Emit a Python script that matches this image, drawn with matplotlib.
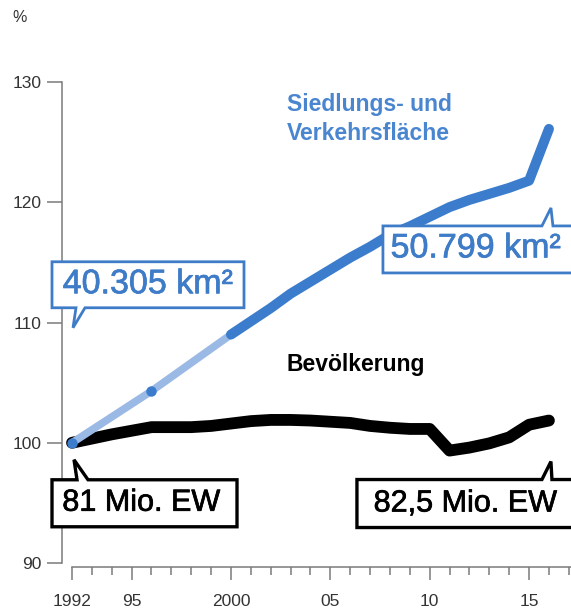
import numpy as np
import matplotlib.pyplot as plt
import matplotlib.patheffects as pe
from matplotlib.patches import Polygon
from matplotlib.transforms import Affine2D, ScaledTranslation

# Daten (Index 1992 = 100)
jahre = list(range(1992, 2017))
bevoelkerung = [100.0, 100.35, 100.7, 101.0, 101.3, 101.3, 101.3, 101.4, 101.6, 101.8,
                101.9, 101.9, 101.85, 101.75, 101.65, 101.4, 101.25, 101.15, 101.15,
                99.35, 99.6, 99.95, 100.45, 101.5, 101.85]

flaeche_jahre = [1992, 1996, 2000, 2001, 2002, 2003, 2004, 2005, 2006, 2007, 2008,
                 2009, 2010, 2011, 2012, 2013, 2014, 2015, 2016]
flaeche_index = [100.0, 104.3, 109.0, 110.1, 111.2, 112.4, 113.4, 114.4, 115.4, 116.3,
                 117.3, 118.0, 118.8, 119.6, 120.2, 120.7, 121.2, 121.8, 126.1]

y_ticks = [90, 100, 110, 120, 130]
x_major = [1992, 1995, 2000, 2005, 2010, 2015]
x_labels = ['1992', '95', '2000', '05', '10', '15']

BLAU = '#3b7dcc'
HELLBLAU = '#9bb9e5'
GRAU = '#7a7a7a'
TEXT = '#333333'

plt.rcParams['font.family'] = ['Liberation Sans', 'DejaVu Sans']

fig = plt.figure(figsize=(5.71, 6.09), dpi=100)
ax = fig.add_axes([0.1086, 0.0755, 0.8914, 0.7898])
ax.set_xlim(1991.497, 2017.11)
ax.set_ylim(90, 130)

# Linien
ax.plot(jahre, bevoelkerung, color='black', lw=8.5, solid_capstyle='round',
        solid_joinstyle='round', zorder=3, clip_on=False)
hell = flaeche_jahre[:3]
ax.plot(hell, flaeche_index[:3], color=HELLBLAU, lw=5.5, solid_capstyle='butt', zorder=4)
ax.plot(flaeche_jahre[2:], flaeche_index[2:], color=BLAU, lw=7.2, solid_capstyle='round',
        solid_joinstyle='round', zorder=4, clip_on=False)
ax.plot(flaeche_jahre[:2], flaeche_index[:2], 'o', color=BLAU, ms=7.5, mec='none', zorder=5)

# Achsen
for s in ['top', 'right']:
    ax.spines[s].set_visible(False)
ax.spines['left'].set_bounds(90, 130)
ax.spines['left'].set_color(GRAU)
ax.spines['left'].set_linewidth(1.1)
ax.spines['bottom'].set_position(('outward', 3))
ax.spines['bottom'].set_bounds(1992, 2017.11)
ax.spines['bottom'].set_color(GRAU)
ax.spines['bottom'].set_linewidth(1.1)

ax.set_yticks(y_ticks)
ax.tick_params(axis='y', length=11, width=1.1, color=GRAU, labelsize=12.5,
               labelcolor=TEXT, pad=4)
ax.set_xticks(x_major)
ax.set_xticklabels(x_labels)
ax.set_xticks(range(1992, 2018), minor=True)
ax.tick_params(axis='x', which='major', length=9.5, width=1.1, color=GRAU,
               labelsize=12.5, labelcolor=TEXT, pad=10)
ax.tick_params(axis='x', which='minor', length=5.5, width=1.1, color=GRAU)

fig.text(12 / 571, 1 - 22 / 609, '%', fontsize=11.5, color=TEXT)

# Beschriftungen
ax.text(2002.8, 127.6, 'Siedlungs- und', color='#4a86d0', fontsize=16.5,
        fontweight='bold', va='baseline')
ax.text(2002.8, 125.2, 'Verkehrsfläche', color='#4a86d0', fontsize=16.5,
        fontweight='bold', va='baseline')
ax.text(2002.8, 106.0, 'Bevölkerung', color='black', fontsize=16.5,
        fontweight='bold', va='baseline')


def callout(x, y, box, spitze, text, text_pos, farbe, lw, size):
    # Box mit Zeiger, Maße in Pixeln relativ zum Datenpunkt
    tr = Affine2D() + ScaledTranslation(x, y, ax.transData)
    x0, x1, y0, y1 = box
    b0, b1, bx, by = spitze
    if by > y1:  # Zeiger oben
        pts = [(x0, y1), (b0, y1), (bx, by), (b1, y1), (x1, y1), (x1, y0), (x0, y0)]
    else:  # Zeiger unten
        pts = [(x0, y1), (x1, y1), (x1, y0), (b1, y0), (bx, by), (b0, y0), (x0, y0)]
    ax.add_patch(Polygon(pts, closed=True, fc='white', ec=farbe, lw=lw,
                         joinstyle='miter', transform=tr, clip_on=False, zorder=6))
    t = ax.text(text_pos[0], text_pos[1], text, transform=tr, ha='center', va='center',
                color=farbe, fontsize=size, zorder=7)
    t.set_path_effects([pe.withStroke(linewidth=0.5, foreground=farbe)])


callout(1992, 100, (-20, 172, 135, 181), (4, 13, 1, 115), '40.305 km²', (76, 158),
        '#3f7cc8', 2.0, 24.5)
callout(2016, 126.1, (-166, 40, -144, -97), (-7, 4, 2, -79), '50.799 km²', (-73, -120),
        '#3f7cc8', 2.0, 24.5)
callout(1992, 100, (-20, 165, -84, -37), (5, 16, 2, -17), '81 Mio. EW', (69, -60),
        'black', 2.4, 22)
callout(2016, 101.85, (-192, 40, -107, -59), (-7, 3, 2, -41), '82,5 Mio. EW', (-84, -83),
        'black', 2.4, 22)

fig.savefig('out.png', dpi=100)
